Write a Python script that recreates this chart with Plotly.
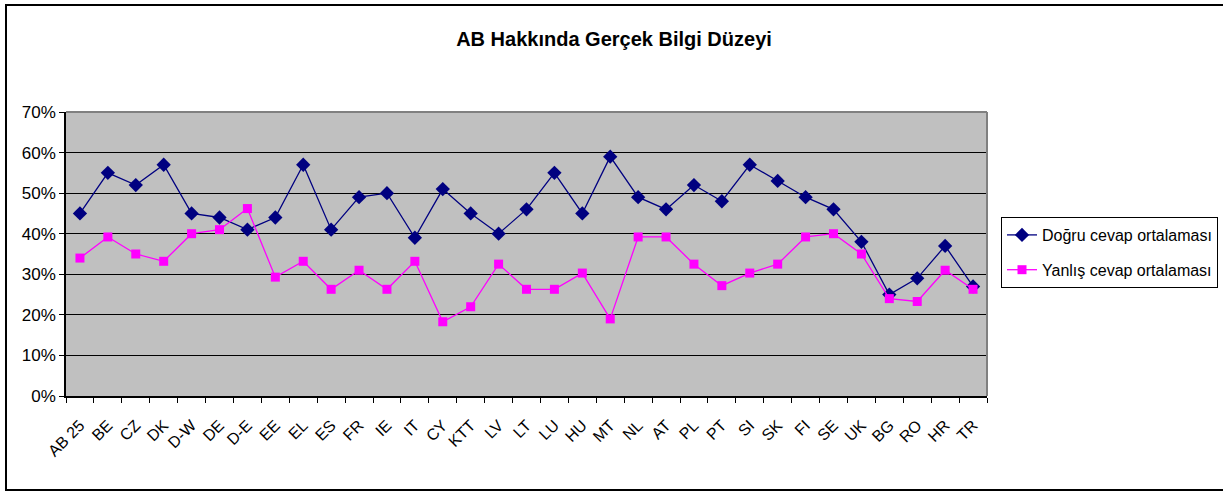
import plotly.graph_objects as go

categories = ["AB 25", "BE", "CZ", "DK", "D-W", "DE", "D-E", "EE", "EL", "ES", "FR",
              "IE", "IT", "CY", "KTT", "LV", "LT", "LU", "HU", "MT", "NL", "AT",
              "PL", "PT", "SI", "SK", "FI", "SE", "UK", "BG", "RO", "HR", "TR"]

dogru = [45, 55, 52, 57, 45, 44, 41, 44, 57, 41, 49, 50, 39, 51, 45, 40, 46,
         55, 45, 59, 49, 46, 52, 48, 57, 53, 49, 46, 38, 25, 29, 37, 27]

yanlis = [34, 39.2, 35, 33.2, 40, 41, 46.2, 29.3, 33.2, 26.3, 31, 26.3, 33.2,
          18.3, 22, 32.5, 26.3, 26.3, 30.3, 19, 39.2, 39.2, 32.5, 27.2, 30.3,
          32.5, 39.2, 40, 35, 24, 23.3, 31, 26.3]

y_ticks = [0, 10, 20, 30, 40, 50, 60, 70]
y_tick_labels = [f"{v}%" for v in y_ticks]

W, H = 1223, 492
L, R, T, B = 66, 236, 112, 96
pw, ph = W - L - R, H - T - B

def px_x(x):
    return (x - L) / pw

def px_y(y):
    return (H - B - y) / ph

font = "Liberation Sans, Arial, sans-serif"

fig = go.Figure()
fig.add_trace(go.Scatter(
    x=categories, y=dogru, name="Doğru cevap ortalaması", mode="lines+markers",
    legendgroup="d",
    line=dict(color="#000080", width=1.3),
    marker=dict(symbol="diamond", size=11, color="#000080"),
))
fig.add_trace(go.Scatter(
    x=categories, y=yanlis, name="Yanlış cevap ortalaması", mode="lines+markers",
    legendgroup="y",
    line=dict(color="#FF00FF", width=1.3),
    marker=dict(symbol="square", size=9, color="#FF00FF"),
))

fig.update_layout(
    width=W, height=H,
    margin=dict(l=L, r=R, t=T, b=B, autoexpand=False),
    paper_bgcolor="white", plot_bgcolor="#C0C0C0",
    title=dict(text="<b>AB Hakkında Gerçek Bilgi Düzeyi</b>",
               font=dict(family=font, size=20, color="black"),
               x=px_x(614), xref="paper", xanchor="center",
               y=1 - 39 / H, yanchor="middle"),
    legend=dict(x=px_x(1001), y=px_y(217), xanchor="left", yanchor="top",
                bordercolor="black", borderwidth=1, bgcolor="white",
                font=dict(family=font, size=16, color="black"),
                itemwidth=30, tracegroupgap=11),
    showlegend=True,
    xaxis=dict(
        type="category", tickangle=-45, tickson="boundaries",
        ticks="outside", ticklen=5, tickcolor="black",
        ticklabelstandoff=12,
        showline=True, linecolor="black", linewidth=1.5,
        showgrid=False, tickfont=dict(family=font, size=16, color="black"),
        range=[-0.5, len(categories) - 0.5],
    ),
    yaxis=dict(
        range=[0, 70], tickvals=y_ticks, ticktext=y_tick_labels,
        ticks="outside", ticklen=5, tickcolor="black",
        showline=True, linecolor="black", linewidth=1.5,
        showgrid=True, gridcolor="black", gridwidth=1,
        zeroline=False,
        tickfont=dict(family=font, size=17, color="black"),
    ),
    shapes=[
        # gray frame on top/right of the plotting area
        dict(type="line", xref="paper", yref="paper", x0=0, x1=1, y0=1, y1=1,
             line=dict(color="#808080", width=2)),
        dict(type="line", xref="paper", yref="paper", x0=1, x1=1, y0=0, y1=1,
             line=dict(color="#808080", width=2)),
        # outer chart border
        dict(type="rect", xref="paper", yref="paper",
             x0=px_x(6), x1=px_x(1230), y0=px_y(490), y1=px_y(5),
             line=dict(color="black", width=2)),
    ],
)

fig.write_html("out.html")
